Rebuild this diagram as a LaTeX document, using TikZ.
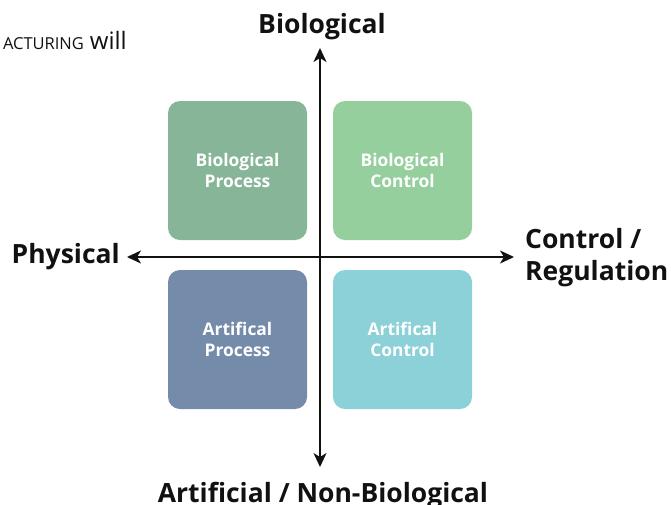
\documentclass[tikz,border=0pt]{standalone}
\usepackage{fontspec}
\setmainfont{Open Sans}
\usetikzlibrary{arrows.meta,positioning}

\definecolor{bioproc}{RGB}{134,182,151}
\definecolor{biocont}{RGB}{149,207,157}
\definecolor{artproc}{RGB}{116,139,170}
\definecolor{artcont}{RGB}{141,209,216}
\definecolor{ink}{RGB}{17,17,17}

\tikzset{
  quad/.style={minimum size=139pt, inner sep=0pt, rounded corners=12pt,
    text=white, align=center, font=\fontsize{17.4}{21}\selectfont\bfseries},
  axislabel/.style={text=ink, inner sep=0pt, align=left,
    font=\fontsize{26.5}{32}\selectfont\bfseries},
  axis/.style={draw=ink, line width=1.8pt,
    {Stealth[length=14pt,width=13pt,inset=4pt]}-{Stealth[length=14pt,width=13pt,inset=4pt]}}
}

\begin{document}
\begin{tikzpicture}[x=1pt,y=-1pt]
  \useasboundingbox (0,0) rectangle (671,504);

  % quadrants
  \node[quad, fill=bioproc] (bioproc) at (237.5,170.5) {Biological\\Process};
  \node[quad, fill=biocont] (biocont) at (402.5,170.5) {Biological\\Control};
  \node[quad, fill=artproc] (artproc) at (237.5,339.5) {Artifical\\Process};
  \node[quad, fill=artcont] (artcont) at (402.5,339.5) {Artifical\\Control};

  % axes
  \coordinate (top) at (320,48);
  \coordinate (bottom) at (320,467);
  \coordinate (left) at (127,257);
  \coordinate (right) at (514,257);
  \draw[axis] (top) -- (bottom);
  \draw[axis] (left) -- (right);

  % axis labels
  \node[axislabel, anchor=base] (biolab) at (322,33) {Biological};
  \node[axislabel, anchor=base east] (physlab) at (120,263) {Physical};
  \node[axislabel, anchor=base west] (contlab) at (525,280) {Control /\\Regulation};
  \node[axislabel, anchor=base] (artlab) at (323,502) {Artificial / Non-Biological};

  % cut-off page text
  \begin{scope}
    \clip (0,0) rectangle (671,504);
    \node[text=ink, inner sep=0pt, anchor=base east] (pagetext) at (127,49)
      {{\fontsize{16.5}{16.5}\selectfont ACTURING}\hspace{6pt}{\fontsize{24}{24}\selectfont will}};
  \end{scope}
\end{tikzpicture}
\end{document}
